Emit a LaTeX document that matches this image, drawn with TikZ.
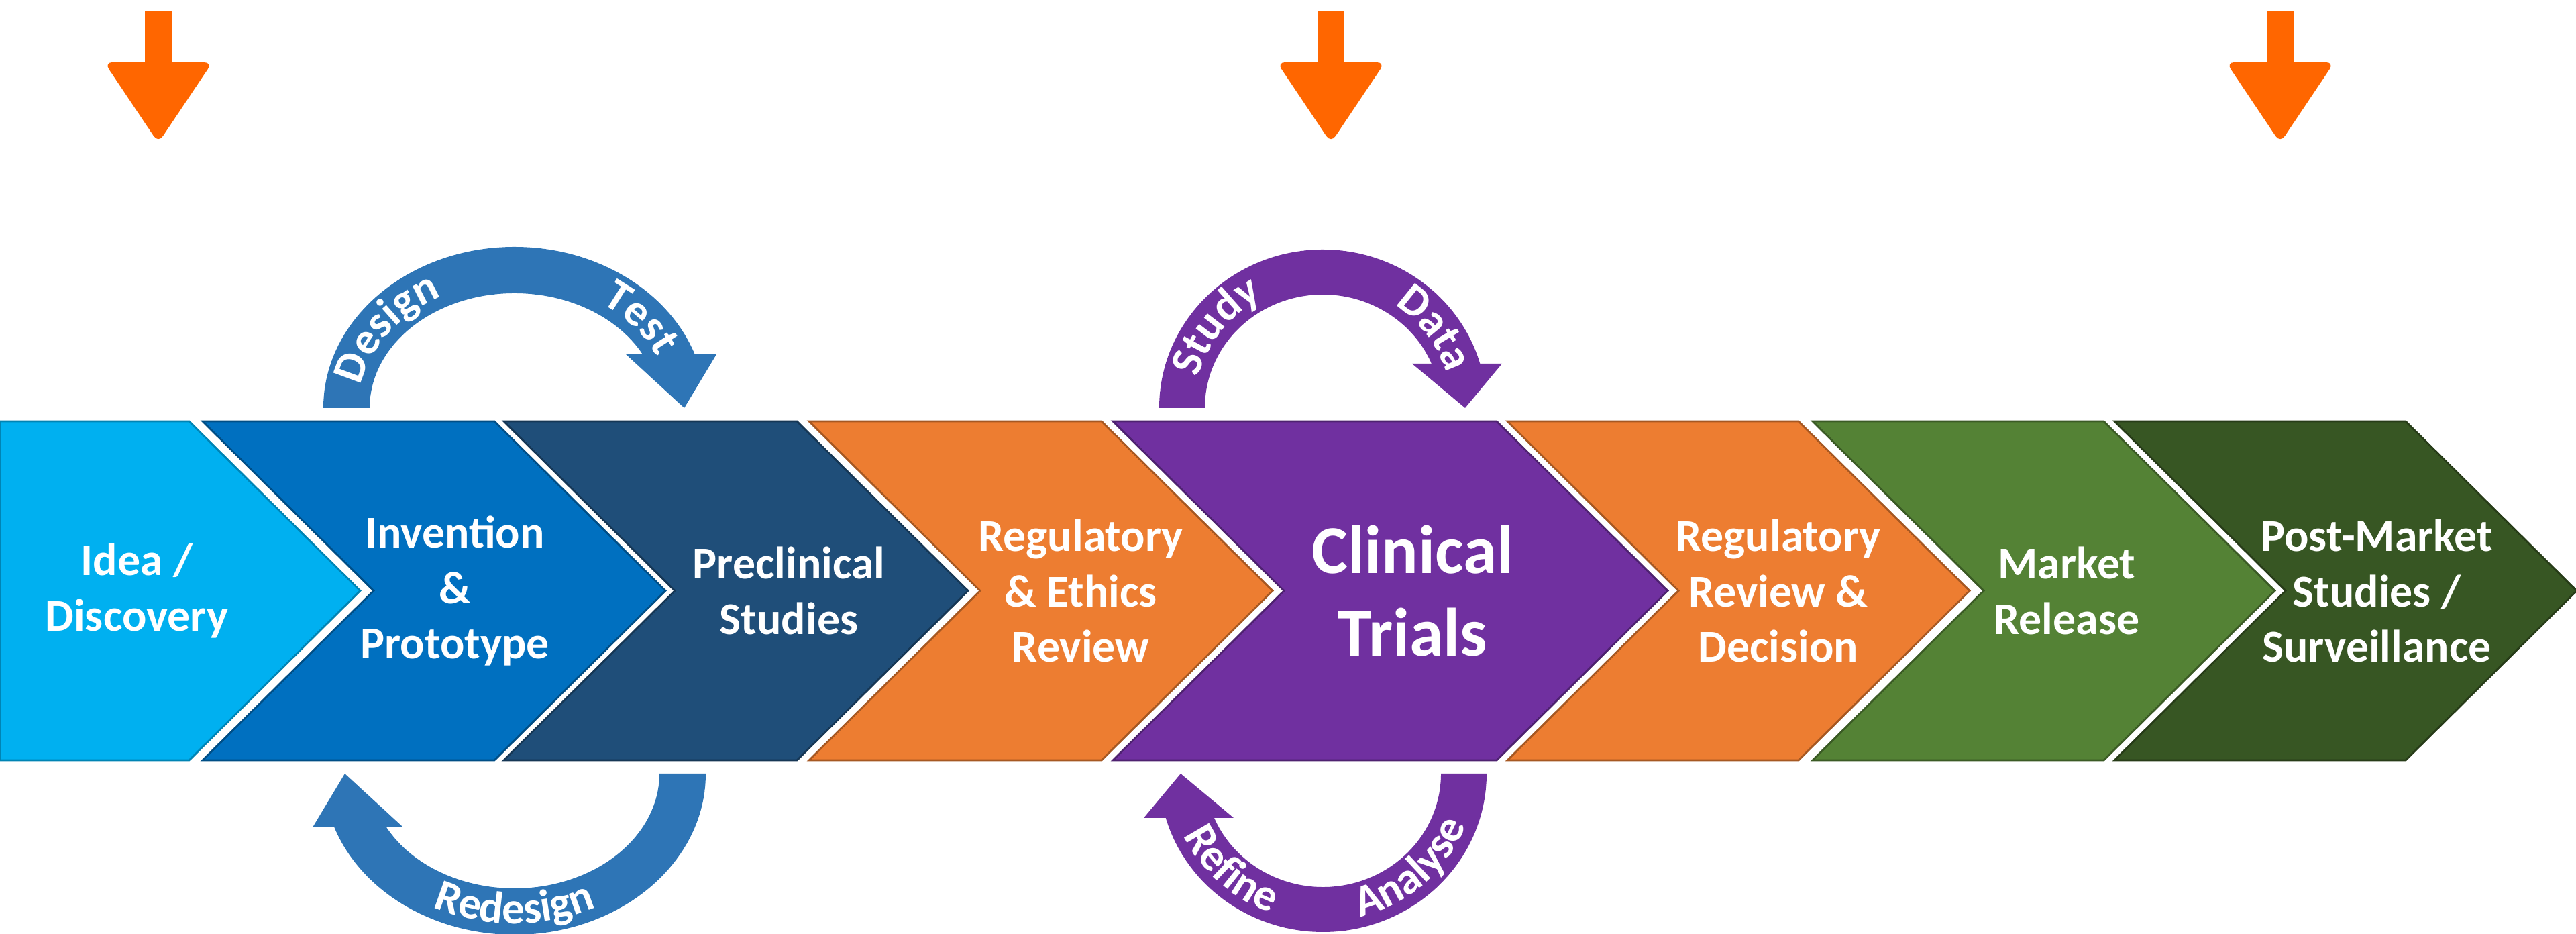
\documentclass[tikz,border=0pt]{standalone}
\usepackage{fontspec}
\setmainfont{Carlito}
\usepackage{tikz}
\usetikzlibrary{decorations.text}
\definecolor{ideablue}{RGB}{0,176,240}
\definecolor{invblue}{RGB}{0,112,192}
\definecolor{preblue}{RGB}{31,78,121}
\definecolor{regorange}{RGB}{237,125,49}
\definecolor{clinpurple}{RGB}{112,48,160}
\definecolor{mktgreen}{RGB}{84,130,53}
\definecolor{postgreen}{RGB}{55,86,35}
\definecolor{loopblue}{RGB}{46,117,182}
\definecolor{markorange}{RGB}{255,102,0}

\begin{document}
\begin{tikzpicture}[
        steptext/.style={text=white, font=\bfseries\fontsize{19.3}{23.6}\selectfont, align=center},
        looptext/.style={decorate, decoration={text along path, text align=center,
            text={|\color{white}\bfseries\fontsize{19}{19}\selectfont|#1}}}
    ]
        \useasboundingbox (0,0) rectangle (38.4,13.92);

        % marker arrows
        \foreach \x in {2.36,19.84,33.99} {
            \fill[markorange] (\x-0.2,12.9) rectangle (\x+0.2,13.76);
            \fill[markorange, rounded corners=0.12cm] (\x-0.805,12.99) -- (\x+0.805,12.99) -- (\x,11.79) -- cycle;
        }

        % chevrons
        \filldraw[fill=ideablue, draw=ideablue!75!black, line width=0.8pt]
            (0,7.64) -- (2.82,7.64) -- (5.37,5.115) -- (2.82,2.59) -- (0,2.59) -- cycle;
        \foreach \l/\r/\c in {3.02/7.37/invblue, 7.51/11.88/preblue, 12.06/16.42/regorange,
            16.59/22.31/clinpurple, 22.47/26.81/regorange, 27.02/31.36/mktgreen, 31.52/35.86/postgreen}
            \filldraw[fill=\c, draw=\c!70!black, line width=0.8pt]
                (\l,7.64) -- (\r,7.64) -- (\r+2.55,5.115) -- (\r,2.59) -- (\l,2.59) -- (\l+2.55,5.115) -- cycle;

        % stage labels
        \node[steptext] (idea) at (2.04,5.115) {Idea /\\Discovery};
        \node[steptext] (proto) at (6.78,5.115) {Invention\\\&\\Prototype};
        \node[steptext] (precl) at (11.76,5.115) {Preclinical\\Studies};
        \node[steptext] (ethics) at (16.11,5.115) {Regulatory\\\& Ethics\\Review};
        \node[steptext, font=\bfseries\fontsize{29}{35}\selectfont] (trials) at (21.06,5.115) {Clinical\\Trials};
        \node[steptext] (decision) at (26.51,5.115) {Regulatory\\Review \&\\Decision};
        \node[steptext] (release) at (30.81,5.115) {Market\\Release};
        \node[steptext] (postmkt) at (35.43,5.115) {Post-Market\\Studies /\\Surveillance};

        % design loop
        \foreach \a in {0,180}
            \fill[loopblue, rotate around={\a:(7.67,5.115)}] (4.82,7.84)
                arc[start angle=180, end angle=19.47, x radius=2.85, y radius=2.40]
                -- (10.68,8.64) -- (10.20,7.84) -- (9.33,8.64) -- (9.579,8.64)
                arc[start angle=27.9, end angle=180, x radius=2.16, y radius=1.71] -- cycle;
        \path[looptext=Design, shift={(7.67,7.84)}] (185:2.325 and 1.875) arc[start angle=185, end angle=105, x radius=2.325, y radius=1.875];
        \path[looptext=Test, shift={(7.67,7.84)}] (78:2.325 and 1.875) arc[start angle=78, end angle=-2, x radius=2.325, y radius=1.875];
        \path[looptext=Redesign, shift={(7.67,2.39)}] (222:2.685 and 2.235) arc[start angle=222, end angle=318, x radius=2.685, y radius=2.235];

        % trial loop
        \foreach \a in {0,180}
            \fill[clinpurple, rotate around={\a:(19.72,5.115)}] (17.28,7.84)
                arc[start angle=180, end angle=16.24, x radius=2.44, y radius=2.36]
                -- (22.39,8.50) -- (21.84,7.84) -- (21.05,8.50) -- (21.34,8.50)
                arc[start angle=22.99, end angle=180, x radius=1.76, y radius=1.69] -- cycle;
        \path[looptext=Study, shift={(19.72,7.84)}] (182:1.92 and 1.845) arc[start angle=182, end angle=102, x radius=1.92, y radius=1.845];
        \path[looptext=Data, shift={(19.72,7.84)}] (76:1.92 and 1.845) arc[start angle=76, end angle=-4, x radius=1.92, y radius=1.845];
        \path[looptext=Refine, shift={(19.72,2.39)}] (185:2.28 and 2.205) arc[start angle=185, end angle=269, x radius=2.28, y radius=2.205];
        \path[looptext=Analyse, shift={(19.72,2.39)}] (268:2.28 and 2.205) arc[start angle=268, end angle=356, x radius=2.28, y radius=2.205];
    \end{tikzpicture}
\end{document}
